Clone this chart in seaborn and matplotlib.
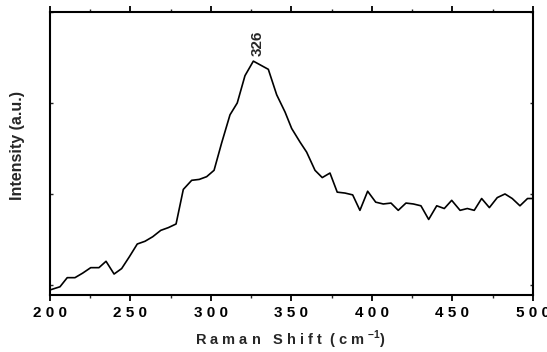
import matplotlib
matplotlib.use("Agg")
import matplotlib.pyplot as plt
import seaborn as sns
import pandas as pd
from matplotlib.ticker import MultipleLocator, FixedLocator

raman_shift = [200.0, 206.2, 210.7, 215.5, 220.3, 225.3, 230.4, 234.8, 239.8, 244.5,
               249.3, 254.2, 259.0, 263.8, 268.8, 273.5, 278.3, 282.8, 288.0, 292.7,
               297.3, 301.9, 306.6, 311.8, 316.3, 321.1, 326.3, 335.6, 340.8, 346.0,
               350.1, 355.3, 359.4, 364.6, 369.1, 373.9, 378.4, 383.2, 388.0, 392.5,
               397.3, 402.3, 407.0, 411.8, 416.3, 421.1, 425.7, 430.4, 435.2, 440.2,
               444.9, 449.5, 454.7, 459.2, 463.5, 468.1, 472.9, 477.8, 482.6, 487.1,
               491.9, 496.6, 500.0]
intensity = [-0.055, -0.02, 0.08, 0.08, 0.13, 0.19, 0.19, 0.26, 0.12, 0.18,
             0.31, 0.45, 0.48, 0.53, 0.60, 0.63, 0.67, 1.05, 1.15, 1.16,
             1.19, 1.26, 1.56, 1.87, 2.00, 2.30, 2.46, 2.37, 2.09, 1.90,
             1.72, 1.57, 1.46, 1.26, 1.18, 1.23, 1.02, 1.01, 0.99, 0.82,
             1.03, 0.91, 0.89, 0.90, 0.82, 0.90, 0.89, 0.87, 0.72, 0.87,
             0.84, 0.93, 0.82, 0.84, 0.82, 0.95, 0.85, 0.96, 1.00, 0.95,
             0.87, 0.95, 0.95]
x_ticks = [200, 250, 300, 350, 400, 450, 500]
x_tick_labels = ["200", "250", "300", "350", "400", "450", "500"]
peak_label = "326"
peak_pos = (328.9, 2.66)

df = pd.DataFrame({"Raman Shift": raman_shift, "Intensity": intensity})

sns.set_theme(style="ticks")
plt.rcParams['font.family'] = ['Liberation Sans', 'DejaVu Sans']
plt.rcParams['mathtext.fontset'] = 'custom'
plt.rcParams['mathtext.rm'] = 'Liberation Sans:bold'
plt.rcParams['mathtext.bf'] = 'Liberation Sans:bold'

fig = plt.figure(figsize=(5.47, 3.52), dpi=100)
ax = fig.add_axes([50/547, (352-294.5)/352, (533-50)/547, (294.5-12)/352])

sns.lineplot(data=df, x="Raman Shift", y="Intensity", ax=ax, color="black",
             linewidth=1.2, sort=False)

ax.set_xlim(200, 500)
ax.set_ylim(-0.105, 3.0)

ax.xaxis.set_major_locator(FixedLocator(x_ticks))
ax.set_xticklabels([" ".join(list(t)) for t in x_tick_labels],
                   fontsize=11, fontweight="bold")
ax.xaxis.set_minor_locator(MultipleLocator(25))
ax.yaxis.set_major_locator(FixedLocator([0, 1, 2, 3]))
ax.set_yticklabels([])

for s in ax.spines.values():
    s.set_linewidth(1.5)
    s.set_color("black")
    s.set_visible(True)

ax.tick_params(axis="x", which="major", direction="out", length=4.5, width=1.3,
               top=True, bottom=True, pad=4, colors="black")
ax.tick_params(axis="x", which="minor", direction="out", length=2.5, width=1.0,
               top=True, bottom=True)
ax.tick_params(axis="y", which="major", direction="in", length=2.5, width=1.0,
               left=True, right=True)

ax.set_xlabel("R a m a n   S h i f t  ( c m $^{-1}$)", fontsize=10.5,
              fontweight="bold")
ax.xaxis.set_label_coords(0.498, -0.122)
ax.set_ylabel("Intensity (a.u.)", fontsize=11.5, fontweight="bold")
ax.yaxis.set_label_coords(-0.052, 0.529)

ax.text(peak_pos[0], peak_pos[1], peak_label, rotation=90, fontsize=11,
        fontweight="bold", ha="center", va="center")

fig.savefig("out.png", dpi=100)
